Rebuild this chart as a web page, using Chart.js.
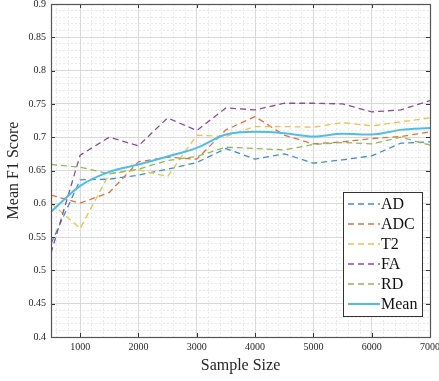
<!DOCTYPE html>
<html>
<head>
<meta charset="utf-8">
<script src="https://cdn.jsdelivr.net/npm/chart.js@4.4.1/dist/chart.umd.min.js"></script>
<style>
html,body{margin:0;padding:0;background:#fff;}
#wrap{width:439px;height:381px;position:relative;}
</style>
</head>
<body>
<div id="wrap"><canvas id="c" width="439" height="381"></canvas></div>
<script>
const sampleSizes = [500,1000,1500,2000,2500,3000,3500,4000,4500,5000,5500,6000,6500,7000];
const AD   = [0.540,0.636,0.637,0.643,0.652,0.662,0.683,0.667,0.675,0.661,0.666,0.672,0.691,0.693];
const ADC  = [0.613,0.601,0.617,0.663,0.670,0.667,0.711,0.731,0.703,0.690,0.693,0.698,0.701,0.708];
const T2   = [0.601,0.563,0.645,0.651,0.641,0.703,0.701,0.716,0.716,0.715,0.722,0.717,0.723,0.729];
const FA   = [0.526,0.673,0.700,0.687,0.729,0.710,0.744,0.741,0.751,0.751,0.750,0.738,0.741,0.755];
const RD   = [0.659,0.655,0.645,0.652,0.665,0.671,0.685,0.683,0.681,0.689,0.692,0.690,0.700,0.688];
const MEAN = [0.588,0.627,0.648,0.659,0.671,0.684,0.704,0.708,0.706,0.701,0.705,0.704,0.711,0.714];

const xTicks = [1000,2000,3000,4000,5000,6000,7000];
const yTicks = [0.4,0.45,0.5,0.55,0.6,0.65,0.7,0.75,0.8,0.85,0.9];
const xRange = [500,7000];
const yRange = [0.4,0.9];
const xMinorStep = 200;
const yMinorStep = 0.01;

const seriesNames = ['AD','ADC','T2','FA','RD','Mean'];
const seriesValues = [AD,ADC,T2,FA,RD,MEAN];
const seriesColors = ['#3d8fcf','#e07040','#efc245','#8c4c9a','#8cbb55','#4fbde9'];

const serif = "'Liberation Serif','DejaVu Serif',serif";

const datasets = seriesNames.map((name,i)=>{
  const isMean = name==='Mean';
  return {
    label:name,
    data: sampleSizes.map((s,j)=>({x:s,y:seriesValues[i][j]})),
    borderColor: seriesColors[i],
    backgroundColor: seriesColors[i],
    borderWidth: isMean?2:1.3,
    borderDash: isMean?[]:[6,4],
    pointRadius:0,
    fill:false,
    cubicInterpolationMode: isMean?'monotone':'default',
    tension:0,
    order: isMean?0:(10-i)
  };
});

function minorTicks(min,max,step){
  const out=[];
  const n=Math.round((max-min)/step);
  for(let k=0;k<=n;k++){out.push({value:+(min+k*step).toFixed(6)});}
  return out;
}
function noPad(s){s.paddingTop=0;s.paddingBottom=0;s.paddingLeft=0;s.paddingRight=0;}

const boxPlugin = {
  id:'boxPlugin',
  afterDraw(chart){
    const {ctx, chartArea:a, scales} = chart;
    ctx.save();
    ctx.strokeStyle='#333';
    ctx.lineWidth=1;
    const tl=4;
    ctx.beginPath();
    xTicks.forEach(v=>{
      const px=Math.round(scales.x.getPixelForValue(v))+0.5;
      ctx.moveTo(px,a.bottom); ctx.lineTo(px,a.bottom-tl);
      ctx.moveTo(px,a.top); ctx.lineTo(px,a.top+tl);
    });
    yTicks.forEach(v=>{
      const py=Math.round(scales.y.getPixelForValue(v))+0.5;
      ctx.moveTo(a.left,py); ctx.lineTo(a.left+tl,py);
      ctx.moveTo(a.right,py); ctx.lineTo(a.right-tl,py);
    });
    ctx.stroke();
    ctx.strokeStyle='#555';
    ctx.lineWidth=1.2;
    ctx.strokeRect(Math.round(a.left)+0.5,Math.round(a.top)+0.5,Math.round(a.right-a.left),Math.round(a.bottom-a.top));
    // legend
    const lx=343, ly=192, lw=79, lh=124, rowH=20;
    ctx.fillStyle='#fff';
    ctx.fillRect(lx,ly,lw,lh);
    ctx.strokeStyle='#333';
    ctx.lineWidth=1;
    ctx.strokeRect(lx+0.5,ly+0.5,lw,lh);
    ctx.font="16px "+serif;
    ctx.textBaseline='middle';
    chart.data.datasets.forEach((ds,i)=>{
      const cy=ly+12+i*rowH;
      ctx.strokeStyle=ds.borderColor;
      ctx.lineWidth=ds.borderWidth;
      ctx.setLineDash(ds.borderDash.length?[6,4]:[]);
      ctx.beginPath();
      ctx.moveTo(lx+5,cy); ctx.lineTo(lx+37,cy);
      ctx.stroke();
      ctx.setLineDash([]);
      ctx.fillStyle='#111';
      ctx.fillText(ds.label,lx+38,cy+1);
    });
    ctx.restore();
  }
};

new Chart(document.getElementById('c'),{
  type:'line',
  data:{datasets},
  plugins:[boxPlugin],
  options:{
    responsive:false,
    animation:false,
    devicePixelRatio:1,
    layout:{padding:{left:0,right:9,top:4,bottom:0}},
    plugins:{legend:{display:false},tooltip:{enabled:false},title:{display:false}},
    scales:{
      x2:{
        type:'linear', position:'bottom', min:xRange[0], max:xRange[1],
        afterBuildTicks(s){s.ticks=minorTicks(xRange[0]+100,xRange[1],xMinorStep).filter(t=>t.value%1000!==0);},
        ticks:{display:false},
        grid:{color:'#e9e9e9',lineWidth:1,drawTicks:false,z:-2},
        border:{display:false,dash:[2,2]},
        afterFit(s){s.height=0;noPad(s);}
      },
      y2:{
        type:'linear', position:'left', min:yRange[0], max:yRange[1],
        afterBuildTicks(s){s.ticks=minorTicks(yRange[0],yRange[1],yMinorStep);},
        ticks:{display:false},
        grid:{color:'#e9e9e9',lineWidth:1,drawTicks:false,z:-2},
        border:{display:false,dash:[2,2]},
        afterFit(s){s.width=0;noPad(s);}
      },
      x:{
        type:'linear', position:'bottom', min:xRange[0], max:xRange[1],
        afterBuildTicks(s){s.ticks=xTicks.map(v=>({value:v}));},
        ticks:{color:'#262626',font:{family:serif,size:10},padding:4,maxRotation:0,autoSkip:false,
               callback:(v)=>String(v)},
        grid:{color:'#d9d9d9',lineWidth:1,drawTicks:false,z:-1},
        border:{display:false},
        title:{display:true,text:'Sample Size',color:'#262626',font:{family:serif,size:16},padding:{top:0,bottom:6}},
        afterFit(s){s.height=44;noPad(s);}
      },
      y:{
        type:'linear', position:'left', min:yRange[0], max:yRange[1],
        afterBuildTicks(s){s.ticks=yTicks.map(v=>({value:v}));},
        ticks:{color:'#262626',font:{family:serif,size:10},padding:5,autoSkip:false,
               callback:(v)=>String(+v.toFixed(2))},
        grid:{color:'#d9d9d9',lineWidth:1,drawTicks:false,z:-1},
        border:{display:false},
        title:{display:true,text:'Mean F1 Score',color:'#262626',font:{family:serif,size:16},padding:{top:4,bottom:0}},
        afterFit(s){s.width=51;noPad(s);}
      }
    }
  }
});
</script>
</body>
</html>
